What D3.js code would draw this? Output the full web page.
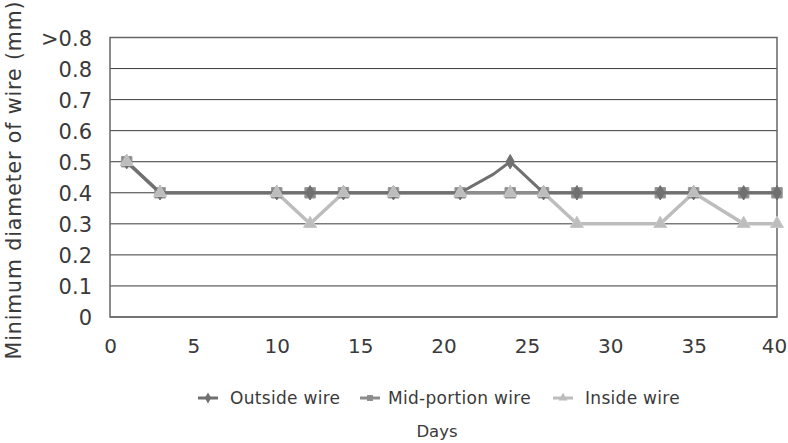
<!DOCTYPE html>
<html><head><meta charset="utf-8">
<script src="https://cdn.jsdelivr.net/npm/d3@7"></script>
<style>body{margin:0;background:#fff}svg{display:block}text{font-family:"DejaVu Sans",sans-serif;fill:#3a3a3a}</style>
</head><body><svg id="c" width="788" height="443"></svg>
<script>
const days = [1,3,10,12,14,17,21,24,26,28,33,35,38,40];
const outsideDays = [1,3,10,12,14,17,21,23,24,26,28,33,35,38,40];
const outside = [0.5,0.4,0.4,0.4,0.4,0.4,0.4,0.46,0.5,0.4,0.4,0.4,0.4,0.4,0.4];
const outsideMarker = [1,1,1,1,1,1,1,0,1,1,1,1,1,1,1];
const mid = [0.5,0.4,0.4,0.4,0.4,0.4,0.4,0.4,0.4,0.4,0.4,0.4,0.4,0.4];
const inside = [0.5,0.4,0.4,0.3,0.4,0.4,0.4,0.4,0.4,0.3,0.3,0.4,0.3,0.3];
const xTicks = [0,5,10,15,20,25,30,35,40];
const yTicks = [0,0.1,0.2,0.3,0.4,0.5,0.6,0.7,0.8,0.9];
const yTickLabels = ["0","0.1","0.2","0.3","0.4","0.5","0.6","0.7","0.8",">0.8"];
const seriesNames = ["Outside wire","Mid-portion wire","Inside wire"];

const svg = d3.select("#c");
const L=110,R=777,T=37.5,B=317;
const x = d3.scaleLinear().domain([0,40]).range([L,R]);
const y = d3.scaleLinear().domain([0,0.9]).range([B,T]);

svg.append("g").selectAll("line").data(yTicks).join("line")
  .attr("x1",L).attr("x2",R).attr("y1",d=>y(d)).attr("y2",d=>y(d))
  .attr("stroke","#3a3a3a").attr("stroke-width",1);
svg.append("rect").attr("x",L).attr("y",T).attr("width",R-L).attr("height",B-T)
  .attr("fill","none").attr("stroke","#666").attr("stroke-width",1.5);

const yAxis = d3.axisLeft(y).tickValues(yTicks).tickFormat((d,i)=>yTickLabels[i]).tickSize(0).tickPadding(18);
const gy = svg.append("g").attr("transform",`translate(${L},0)`).call(yAxis);
gy.select(".domain").remove();
gy.selectAll("text").attr("font-size",21).attr("fill","#3a3a3a").attr("font-family","'DejaVu Sans',sans-serif").attr("dy","0.36em");

const xAxis = d3.axisBottom(x).tickValues(xTicks).tickSize(0).tickPadding(22);
const gx = svg.append("g").attr("transform",`translate(0,${B})`).call(xAxis);
gx.select(".domain").remove();
gx.selectAll("text").attr("font-size",20).attr("fill","#3a3a3a").attr("font-family","'DejaVu Sans',sans-serif");
gx.selectAll("text").filter(d=>d===40).attr("dx",-3);

const line = d3.line().x(d=>x(d[0])).y(d=>y(d[1]));
const colors = {out:"#707070", mid:"#8c8c8c", ins:"#bdbdbd"};

const outPts = outsideDays.map((d,i)=>[d,outside[i],outsideMarker[i]]);
const midPts = days.map((d,i)=>[d,mid[i]]);
const insPts = days.map((d,i)=>[d,inside[i]]);

const diamond = d3.symbol().type(d3.symbolDiamond).size(60);
const square = d3.symbol().type(d3.symbolSquare).size(110);
const triangle = d3.symbol().type(d3.symbolTriangle).size(70);

function drawSeries(pts,color,sym,stroke,w){
  svg.append("path").datum(pts).attr("d",line).attr("fill","none").attr("stroke",color).attr("stroke-width",w).attr("stroke-linejoin","round");
  svg.append("g").selectAll("path").data(pts.filter(p=>p[2]!==0)).join("path")
    .attr("d",sym).attr("transform",p=>`translate(${x(p[0])},${y(p[1])})`)
    .attr("fill",color).attr("stroke",stroke).attr("stroke-width",1);
}
drawSeries(insPts,colors.ins,triangle,"#c8c8c8",3.5);
drawSeries(midPts,colors.mid,square,"#999",3.5);
drawSeries(outPts,colors.out,diamond,"#707070",3);
svg.append("g").selectAll("path").data(insPts).join("path")
  .attr("d",triangle).attr("transform",p=>`translate(${x(p[0])},${y(p[1])})`)
  .attr("fill",colors.ins).attr("stroke","#c8c8c8").attr("stroke-width",1);

svg.append("text").attr("transform","translate(21,180) rotate(-90)").attr("text-anchor","middle")
  .attr("font-size",20.5).attr("letter-spacing",0.9).text("Minimum diameter of wire (mm)");
svg.append("text").attr("x",437).attr("y",437).attr("text-anchor","middle")
  .attr("font-size",16.5).text("Days");

const legX = [198,360,553], legTx = [230,388,585];
const legTypes = [d3.symbolDiamond,d3.symbolSquare,d3.symbolTriangle], legCols=[colors.out,colors.mid,colors.ins];
const lg = svg.append("g");
seriesNames.forEach((n,i)=>{
  lg.append("line").attr("x1",legX[i]).attr("x2",legX[i]+20).attr("y1",398).attr("y2",398).attr("stroke",legCols[i]).attr("stroke-width",3);
  lg.append("path").attr("d",d3.symbol().type(legTypes[i]).size(35)).attr("transform",`translate(${legX[i]+10},398)`).attr("fill",legCols[i]);
  lg.append("text").attr("x",legTx[i]).attr("y",398).attr("dy","0.35em").attr("font-size",17).attr("letter-spacing",0.3).text(n);
});
</script></body></html>
